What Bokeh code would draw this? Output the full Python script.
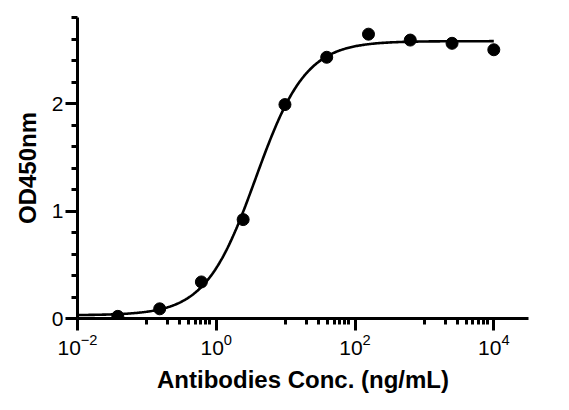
import numpy as np
from bokeh.plotting import figure
from bokeh.models import Range1d, FixedTicker
from bokeh.embed import file_html
from bokeh.resources import INLINE

# --- data ---
conc = [0.0381, 0.153, 0.610, 2.44, 9.77, 39.06, 156.25, 625.0, 2500.0, 10000.0]   # ng/mL
od450 = [0.02, 0.09, 0.34, 0.92, 1.99, 2.43, 2.645, 2.59, 2.56, 2.50]

# 4PL fit parameters estimated from the drawn curve
fit_bottom = 0.03
fit_top = 2.58
fit_ec50 = 3.7
fit_hill = 1.2
fit_xmin = 1e-2
fit_xmax = 1e4

x_major = [1e-2, 1e0, 1e2, 1e4]
x_minor = [k * 10.0 ** e for e in (-1, 1, 3) for k in range(1, 9)]
y_major = [0, 1, 2]
y_minor = [0.2, 0.4, 0.6, 0.8, 1.2, 1.4, 1.6, 1.8, 2.2, 2.4, 2.6, 2.8]

FONT = "Liberation Sans"

p = figure(width=553, height=400, x_axis_type="log",
           x_range=Range1d(1e-2, 10 ** 4.5), y_range=Range1d(0, 2.8),
           output_backend="svg", toolbar_location=None,
           min_border_left=77, min_border_right=25,
           min_border_top=17, min_border_bottom=82)
p.outline_line_color = None
p.xgrid.visible = False
p.ygrid.visible = False
p.background_fill_color = "white"
p.border_fill_color = "white"

xs = np.logspace(np.log10(fit_xmin), np.log10(fit_xmax), 400)
ys = fit_bottom + (fit_top - fit_bottom) / (1.0 + (fit_ec50 / xs) ** fit_hill)
p.line(xs, ys, line_color="black", line_width=2.6)
p.scatter(conc, od450, size=12, fill_color="black", line_color="black")

p.xaxis.ticker = FixedTicker(ticks=x_major, minor_ticks=x_minor)
p.yaxis.ticker = FixedTicker(ticks=y_major, minor_ticks=y_minor)

for ax in (p.xaxis[0], p.yaxis[0]):
    ax.axis_line_width = 3
    ax.axis_line_color = "black"
    ax.major_tick_line_width = 3
    ax.minor_tick_line_width = 3
    ax.major_tick_line_color = "black"
    ax.minor_tick_line_color = "black"
    ax.major_tick_in = 0
    ax.minor_tick_in = 0
    ax.major_tick_out = 12
    ax.minor_tick_out = 6
    ax.major_label_text_font = FONT
    ax.major_label_text_font_size = "21px"
    ax.major_label_text_color = "black"
    ax.axis_label_text_font = FONT
    ax.axis_label_text_font_size = "24px"
    ax.axis_label_text_font_style = "bold"
    ax.axis_label_text_color = "black"

p.xaxis.axis_label = "Antibodies Conc. (ng/mL)"
p.yaxis.axis_label = "OD450nm"
p.xaxis.major_label_standoff = 3
p.yaxis.major_label_standoff = 2
p.xaxis.axis_label_standoff = 8
p.yaxis.axis_label_standoff = 8

open("out.html", "w").write(file_html(p, INLINE))
